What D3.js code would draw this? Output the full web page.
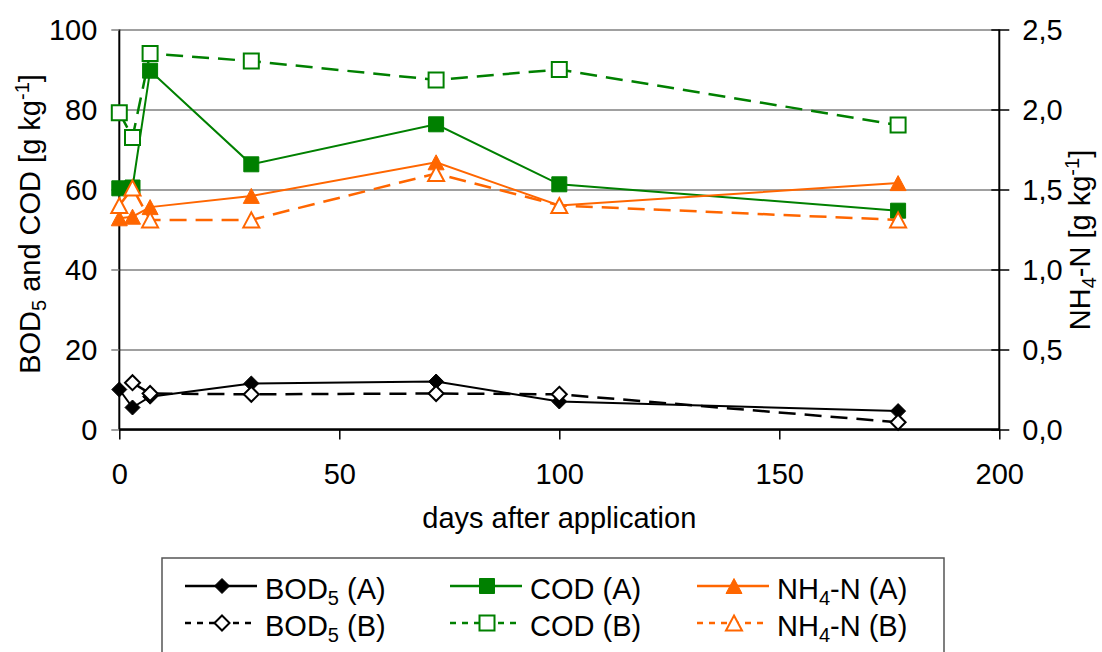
<!DOCTYPE html>
<html>
<head>
<meta charset="utf-8">
<script src="https://cdn.jsdelivr.net/npm/d3@7"></script>
<style>
  body { margin: 0; background: #fff; }
  svg { font-family: "Liberation Sans", Arial, sans-serif; }
</style>
</head>
<body>
<div id="chart"></div>
<script>
// data (null = no value shown)
var days = [0, 3, 7, 30, 72, 100, 177];
var bodA = [10, 5.5, 8.2, 11.5, 12, 7, 4.6];
var bodB = [null, 11.7, 9, 8.8, 9, 8.8, 1.8];
var codA = [60.3, 60.5, 89.7, 66.3, 76.3, 61.3, 54.7];
var codB = [79.2, 73, 94, 92.1, 87.4, 90, 76.1];
var nhA = [1.32, 1.33, 1.39, 1.46, 1.67, 1.40, 1.54];
var nhB = [1.40, 1.51, 1.31, 1.31, 1.60, 1.40, 1.31];

var xTicks = [0, 50, 100, 150, 200];
var yLeftTicks = [0, 20, 40, 60, 80, 100];
var yRightTicks = [0, 0.5, 1, 1.5, 2, 2.5];

var W = 1102, H = 652;
var pLeft = 119.3, pRight = 999.3, pTop = 29.5, pBottom = 429.5;
var fs = 29;

var svg = d3.select('#chart').append('svg')
  .attr('width', W).attr('height', H);

var x = d3.scaleLinear().domain([0, 200]).range([pLeft, pRight]);
var yL = d3.scaleLinear().domain([0, 100]).range([pBottom, pTop]);
var yR = d3.scaleLinear().domain([0, 2.5]).range([pBottom, pTop]);

// text with sub/superscripts
function rich(t, parts, small) {
  var shift = 0;
  parts.forEach(function(p) {
    var target = p[1] === 'sub' ? 6 : (p[1] === 'sup' ? -11 : 0);
    t.append('tspan')
      .attr('dy', target - shift)
      .style('font-size', p[1] ? small + 'px' : null)
      .text(p[0]);
    shift = target;
  });
}

// gridlines
svg.append('g')
  .attr('transform', 'translate(' + pLeft + ',0)')
  .call(d3.axisLeft(yL).tickValues(yLeftTicks).tickSize(-(pRight - pLeft)).tickFormat(''))
  .call(function(g) {
    g.select('.domain').remove();
    g.selectAll('line').attr('stroke', '#808080').attr('stroke-width', 1.5);
  });

// left axis
var gL = svg.append('g')
  .attr('transform', 'translate(' + pLeft + ',0)')
  .call(d3.axisLeft(yL).tickValues(yLeftTicks).tickSize(8).tickPadding(14).tickFormat(d3.format('d')));
gL.select('.domain').attr('d', 'M0,' + pTop + 'V' + pBottom).attr('stroke', '#000').attr('stroke-width', 2);
gL.selectAll('line').attr('stroke', '#808080').attr('stroke-width', 1.5);
gL.selectAll('text').style('font-size', fs + 'px').style('font-family', 'Liberation Sans').attr('dy', '0.36em').attr('fill', '#000');

// right axis
var gR = svg.append('g')
  .attr('transform', 'translate(' + pRight + ',0)')
  .call(d3.axisRight(yR).tickValues(yRightTicks).tickSize(10).tickPadding(13)
    .tickFormat(function(d) { return d3.format('.1f')(d).replace('.', ','); }));
gR.select('.domain').attr('d', 'M0,' + pTop + 'V' + pBottom).attr('stroke', '#000').attr('stroke-width', 2);
gR.selectAll('line').attr('x1', -8).attr('stroke', '#000').attr('stroke-width', 1.5);
gR.selectAll('text').style('font-size', fs + 'px').style('font-family', 'Liberation Sans').attr('dy', '0.36em').attr('fill', '#000');

// bottom axis
var gX = svg.append('g')
  .attr('transform', 'translate(0,' + pBottom + ')')
  .call(d3.axisBottom(x).tickValues(xTicks).tickSize(10).tickFormat(d3.format('d')));
gX.select('.domain').attr('d', 'M' + pLeft + ',0H' + pRight).attr('stroke', '#000').attr('stroke-width', 2.5);
gX.selectAll('line').attr('stroke', '#000').attr('stroke-width', 1.5);
gX.selectAll('text').style('font-size', fs + 'px').style('font-family', 'Liberation Sans')
  .attr('y', 54).attr('dy', null).attr('fill', '#000');

// axis titles
svg.append('text')
  .attr('x', (pLeft + pRight) / 2).attr('y', 528)
  .attr('text-anchor', 'middle').style('font-size', fs + 'px')
  .text('days after application');

var tl = svg.append('text')
  .attr('transform', 'translate(40,' + 224 + ') rotate(-90)')
  .attr('text-anchor', 'middle').style('font-size', fs + 'px');
rich(tl, [['BOD'], ['5', 'sub'], [' and COD [g kg'], ['-1', 'sup'], [']']], 20);

var tr = svg.append('text')
  .attr('transform', 'translate(1090,' + 240 + ') rotate(-90)')
  .attr('text-anchor', 'middle').style('font-size', fs + 'px');
rich(tr, [['NH'], ['4', 'sub'], ['-N [g kg'], ['-1', 'sup'], [']']], 20);

// marker shapes
var shapes = {
  diamond: 'M0,-7.5L7.5,0L0,7.5L-7.5,0Z',
  square: 'M-7.5,-7.5H7.5V7.5H-7.5Z',
  triangle: 'M0,-7.5L8,7.5L-8,7.5Z'
};

var series = [
  { name: [['BOD'], ['5', 'sub'], [' (A)']], values: bodA, y: yL, color: '#000', dash: null, shape: 'diamond', filled: true },
  { name: [['BOD'], ['5', 'sub'], [' (B)']], values: bodB, y: yL, color: '#000', dash: '17,9', shape: 'diamond', filled: false },
  { name: [['COD (A)']], values: codA, y: yL, color: '#008000', dash: null, shape: 'square', filled: true },
  { name: [['COD (B)']], values: codB, y: yL, color: '#008000', dash: '17,9', shape: 'square', filled: false },
  { name: [['NH'], ['4', 'sub'], ['-N (A)']], values: nhA, y: yR, color: '#ff6600', dash: null, shape: 'triangle', filled: true },
  { name: [['NH'], ['4', 'sub'], ['-N (B)']], values: nhB, y: yR, color: '#ff6600', dash: '17,9', shape: 'triangle', filled: false }
];

var plot = svg.append('g');
series.forEach(function(s) {
  var pts = days.map(function(d, i) { return [d, s.values[i]]; })
    .filter(function(p) { return p[1] != null; });
  var line = d3.line().x(function(p) { return x(p[0]); }).y(function(p) { return s.y(p[1]); });
  plot.append('path')
    .attr('d', line(pts))
    .attr('fill', 'none')
    .attr('stroke', s.color)
    .attr('stroke-width', s.dash ? 2.5 : 2)
    .attr('stroke-dasharray', s.dash);
  plot.selectAll(null).data(pts).enter().append('path')
    .attr('d', shapes[s.shape])
    .attr('transform', function(p) { return 'translate(' + x(p[0]) + ',' + s.y(p[1]) + ')'; })
    .attr('fill', s.filled ? s.color : '#fff')
    .attr('stroke', s.color)
    .attr('stroke-width', s.filled ? 1 : 2);
});

// legend
var lg = svg.append('g');
lg.append('rect')
  .attr('x', 162).attr('y', 558).attr('width', 782).attr('height', 120)
  .attr('fill', '#fff').attr('stroke', '#555').attr('stroke-width', 1.5);

var colX = [185, 450, 697];
var rowY = [586, 623];
series.forEach(function(s, i) {
  var c = Math.floor(i / 2), r = i % 2;
  var x0 = colX[c], yy = rowY[r];
  lg.append('line')
    .attr('x1', x0).attr('x2', x0 + 72).attr('y1', yy).attr('y2', yy)
    .attr('stroke', s.color).attr('stroke-width', 2.5)
    .attr('stroke-dasharray', s.dash ? '6,6' : null);
  lg.append('path')
    .attr('d', shapes[s.shape])
    .attr('transform', 'translate(' + (x0 + 37) + ',' + yy + ')')
    .attr('fill', s.filled ? s.color : '#fff')
    .attr('stroke', s.color)
    .attr('stroke-width', s.filled ? 1 : 2);
  var t = lg.append('text')
    .attr('x', x0 + 80).attr('y', yy + 13)
    .style('font-size', fs + 'px');
  rich(t, s.name, 20);
});
</script>
</body>
</html>
